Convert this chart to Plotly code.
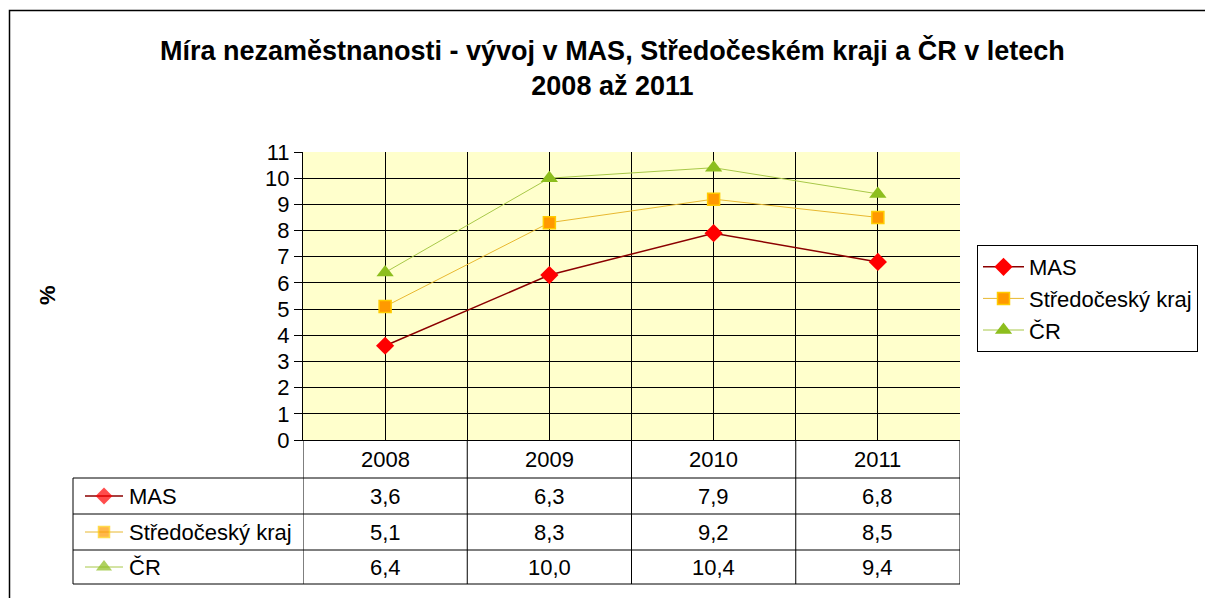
import plotly.graph_objects as go

# ---- data ----
years = ["2008", "2009", "2010", "2011"]
series_names = ["MAS", "Středočeský kraj", "ČR"]
mas = [3.6, 6.3, 7.9, 6.8]
stredocesky = [5.1, 8.3, 9.2, 8.5]
cr = [6.4, 10.0, 10.4, 9.4]
y_ticks = list(range(0, 12))

W, H = 1205, 598
def px(x):
    return x / W
def py(y):
    return 1 - y / H

FONT = "Liberation Sans, Arial, sans-serif"
FS = 22

styles = [
    dict(line=dict(color="#8B0000", width=1.5),
         marker=dict(symbol="diamond", size=14, color="#FF0000", line=dict(color="#FF0000", width=0))),
    dict(line=dict(color="#E8B830", width=1),
         marker=dict(symbol="square", size=12, color="#FF9900", line=dict(color="#FFCC00", width=1.5))),
    dict(line=dict(color="#A8C848", width=1),
         marker=dict(symbol="triangle-up", size=15, color="#8DBE1E", line=dict(color="#8DBE1E", width=0))),
]
values = [mas, stredocesky, cr]

fig = go.Figure()
xpos = list(range(len(years)))
for name, vals, st in zip(series_names, values, styles):
    fig.add_trace(go.Scatter(x=xpos, y=vals, name=name, mode="lines+markers",
                             line=st["line"], marker=st["marker"], cliponaxis=False))

# table key glyphs (separate full-page axes in pixel space)
row_centers = [496, 532, 567]
for name, st, yc in zip(series_names, styles, row_centers):
    m = dict(st["marker"])
    m["size"] = [0, m["size"] - 1, 0]
    fig.add_trace(go.Scatter(x=[85, 104, 123], y=[yc, yc, yc], mode="lines+markers",
                             line=st["line"], marker=m, xaxis="x2", yaxis="y2",
                             showlegend=False, hoverinfo="skip", cliponaxis=False))

x_lo, x_hi = 303, 960
y_top, y_bot = 152, 440

fig.update_layout(
    width=W, height=H,
    margin=dict(l=0, r=0, t=0, b=0, pad=0, autoexpand=False),
    paper_bgcolor="white",
    plot_bgcolor="rgba(0,0,0,0)",
    font=dict(family=FONT, color="black"),
    showlegend=True,
    legend=dict(x=px(977), y=py(245), xanchor="left", yanchor="top",
                bordercolor="black", borderwidth=1, bgcolor="white",
                font=dict(size=FS, family=FONT), tracegroupgap=0, itemwidth=41),
    xaxis=dict(domain=[px(x_lo), px(x_hi)], range=[-0.5, len(years) - 0.5],
               tickvals=xpos, showticklabels=False, ticks="",
               showgrid=True, gridcolor="black", gridwidth=1,
               minor=dict(tickvals=[i - 0.5 for i in range(len(years) + 1)],
                          showgrid=True, gridcolor="black", gridwidth=1, ticks=""),
               showline=True, linecolor="black", linewidth=1, zeroline=False),
    yaxis=dict(domain=[py(y_bot), py(y_top)], range=[0, 11], tickvals=y_ticks,
               ticks="outside", ticklen=8, tickcolor="black",
               tickfont=dict(size=FS, family=FONT, color="black"),
               showgrid=True, gridcolor="black", gridwidth=1,
               showline=True, linecolor="black", linewidth=1, zeroline=False),
    xaxis2=dict(domain=[0, 1], range=[0, W], visible=False, anchor="y2"),
    yaxis2=dict(domain=[0, 1], range=[H, 0], visible=False, anchor="x2"),
)

shapes = []
# plot background
shapes.append(dict(type="rect", xref="x domain", yref="y domain", x0=0, x1=1, y0=0, y1=1,
                   fillcolor="#FFFFCC", line=dict(width=0), layer="below"))
# outer border
shapes.append(dict(type="rect", xref="paper", yref="paper", x0=px(9.5), x1=1.02,
                   y0=-0.05, y1=py(10.5), line=dict(color="black", width=1.5)))
# table lines
line_style = dict(color="black", width=1)
row_lines = [478, 514, 550, 584]
for yl in row_lines:
    shapes.append(dict(type="line", xref="paper", yref="paper", x0=px(73), x1=px(x_hi),
                       y0=py(yl), y1=py(yl), line=line_style))
shapes.append(dict(type="line", xref="paper", yref="paper", x0=px(73), x1=px(73),
                   y0=py(478), y1=py(584), line=line_style))
for i in range(len(years) + 1):
    shapes.append(dict(type="line", xref="x", yref="paper", x0=i - 0.5, x1=i - 0.5,
                       y0=py(y_bot), y1=py(584), line=line_style))
fig.update_layout(shapes=shapes)

ann = []
ann.append(dict(text="<b>Míra nezaměstnanosti - vývoj v MAS, Středočeském kraji a ČR v letech<br>2008 až 2011</b>",
                xref="paper", yref="paper", x=px(612), y=py(68), xanchor="center", yanchor="middle",
                showarrow=False, font=dict(size=27, family=FONT, color="black")))
ann.append(dict(text="<b>%</b>", xref="paper", yref="paper", x=px(47), y=py(295),
                xanchor="center", yanchor="middle",
                textangle=-90, showarrow=False, font=dict(size=FS, family=FONT, color="black")))
for i, yr in enumerate(years):
    ann.append(dict(text=yr, xref="x", yref="paper", x=i, y=py(459), showarrow=False,
                    xanchor="center", yanchor="middle",
                    font=dict(size=FS, family=FONT, color="black")))
for name, vals, yc in zip(series_names, values, row_centers):
    ann.append(dict(text=name, xref="paper", yref="paper", x=px(127), y=py(yc),
                    xanchor="left", yanchor="middle", showarrow=False,
                    font=dict(size=FS, family=FONT, color="black")))
    for i, v in enumerate(vals):
        ann.append(dict(text=f"{v:.1f}".replace(".", ","), xref="x", yref="paper", x=i, y=py(yc),
                        xanchor="center", yanchor="middle", showarrow=False,
                        font=dict(size=FS, family=FONT, color="black")))
fig.update_layout(annotations=ann)

post = ("document.documentElement.style.margin='0';document.body.style.margin='0';"
        "document.body.style.padding='0';"
        "document.documentElement.style.overflow='hidden';document.body.style.overflow='hidden';"
        "var gd=document.getElementById('{plot_id}');gd.style.position='fixed';"
        "gd.style.top='0px';gd.style.left='0px';")
fig.write_html("out.html", config={"displayModeBar": False}, post_script=post)
